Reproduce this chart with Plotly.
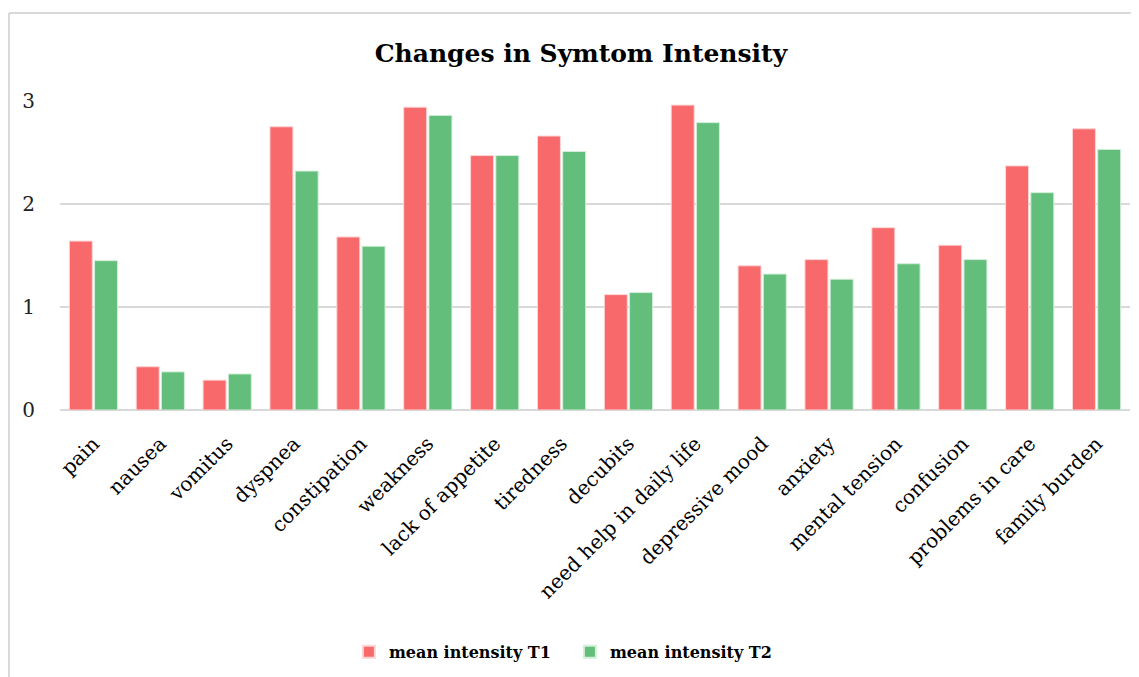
import plotly.graph_objects as go

categories = ["pain", "nausea", "vomitus", "dyspnea", "constipation", "weakness",
              "lack of appetite", "tiredness", "decubits", "need help in daily life",
              "depressive mood", "anxiety", "mental tension", "confusion",
              "problems in care", "family burden"]
t1 = [1.64, 0.42, 0.29, 2.75, 1.68, 2.94, 2.47, 2.66, 1.12, 2.96, 1.40, 1.46, 1.77, 1.60, 2.37, 2.73]
t2 = [1.45, 0.37, 0.35, 2.32, 1.59, 2.86, 2.47, 2.51, 1.14, 2.79, 1.32, 1.27, 1.42, 1.46, 2.11, 2.53]
series_names = ["mean intensity T1", "mean intensity T2"]
y_ticks = [0, 1, 2, 3]

RED = "#F8696B"
GREEN = "#63BE7B"
SERIF = "DejaVu Serif, Liberation Serif, serif"

fig = go.Figure()
fig.add_trace(go.Bar(x=categories, y=t1, name=series_names[0],
                     marker=dict(color=RED, line=dict(color="#FDD5D5", width=1))))
fig.add_trace(go.Bar(x=categories, y=t2, name=series_names[1],
                     marker=dict(color=GREEN, line=dict(color="#D2EFD9", width=1))))

fig.update_layout(
    width=1139, height=677,
    margin=dict(l=52, r=17, t=93, b=275),
    paper_bgcolor="white", plot_bgcolor="white",
    barmode="group", bargap=0.245, bargroupgap=0.09,
    title=dict(text="<b>Changes in Symtom Intensity</b>", x=0.503, xref="container",
               xanchor="center", y=1 - 45 / 677, yanchor="middle",
               font=dict(family=SERIF, size=25, color="#000000")),
    legend=dict(orientation="h", x=0.270, xanchor="left", y=-0.783, yanchor="middle",
                font=dict(family=SERIF, size=16, color="#000000", weight="bold"),
                itemsizing="constant", traceorder="normal", itemwidth=30,
                entrywidth=176, entrywidthmode="pixels"),
    showlegend=True,
)
fig.update_xaxes(tickangle=-45, tickfont=dict(family=SERIF, size=20, color="#000000"),
                 showline=False, showgrid=False, ticks="outside", ticklen=13,
                 tickcolor="rgba(0,0,0,0)", fixedrange=True)
fig.update_yaxes(range=[0, 3], tickvals=y_ticks, showgrid=True, gridcolor="#D9D9D9",
                 gridwidth=1.5, zeroline=True, zerolinecolor="#D9D9D9", zerolinewidth=1.5,
                 showline=False, tickfont=dict(family=SERIF, size=20, color="#222222"),
                 ticks="outside", ticklen=20, tickcolor="rgba(0,0,0,0)")

# outer chart border (light gray frame, top and left visible)
fig.add_shape(type="line", xref="paper", yref="paper", x0=-0.0477, x1=1.03,
              y0=1.285, y1=1.285, line=dict(color="#D9D9D9", width=2))
fig.add_shape(type="line", xref="paper", yref="paper", x0=-0.0477, x1=-0.0477,
              y0=1.285, y1=-0.95, line=dict(color="#D9D9D9", width=2))

fig.write_html("out.html")
